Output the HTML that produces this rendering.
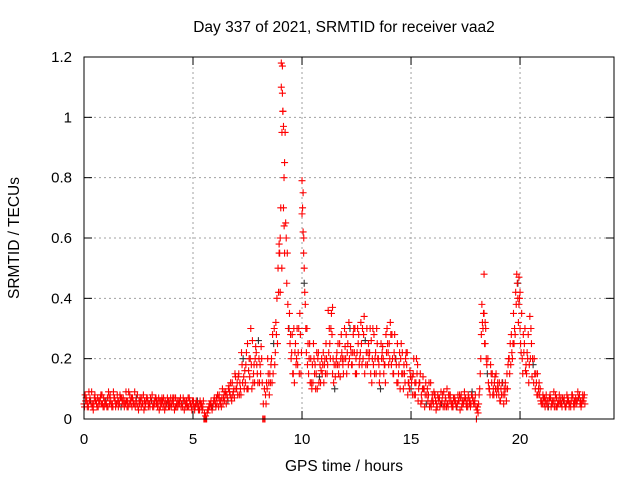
<!DOCTYPE html>
<html><head><meta charset="utf-8"><style>
body{margin:0;background:#fff;}
svg{display:block;font-family:"Liberation Sans",sans-serif;}
</style></head><body>
<svg id="chart" width="640" height="480"></svg>
<script>
const startHour = 0;
const stepHour = 0.1;
const seriesA = [.05,.07,.04,.06,.05,.08,.04,.06,.05,.07,
.06,.04,.08,.05,.07,.05,.06,.04,.07,.05,
.06,.08,.04,.05,.07,.03,.06,.05,.04,.07,
.05,.06,.04,.07,.05,.04,.06,.03,.05,.06,
.04,.05,.07,.04,.06,.05,.03,.06,.04,.05,
.05,.04,.06,.03,.05,0,0,.03,.05,.04,
.06,.05,.08,.04,.07,.09,.06,.08,.12,.07,
.1,.15,.08,.2,.12,.25,.14,.1,.18,.22,
.26,.15,0,0,.1,.08,.2,.25,.32,.5,
.6,1.17,.85,.45,.3,.2,.15,.25,.18,.35,
.79,.45,.22,.15,.2,.12,.18,.1,.14,.2,
.12,.25,.36,.2,.15,.1,.22,.18,.28,.15,
.2,.25,.3,.18,.22,.15,.28,.32,.2,.26,
.18,.22,.12,.28,.15,.2,.1,.24,.18,.3,
.25,.18,.15,.2,.12,.1,.22,.15,.18,.12,
.1,.15,.08,.18,.12,.06,.1,.05,.08,.12,
.06,.08,.04,.07,.05,.09,.06,.04,.08,.05,
.07,.04,.06,.08,.05,.07,.04,.06,.09,.05,
0,.05,.2,.3,.25,.15,.1,.12,.08,.15,
.1,.06,.12,.08,.15,.2,.28,.35,.42,.45,
.3,.2,.25,.15,.12,.3,.18,.1,.15,.08,
.06,.05,.08,.04,.07,.05,.06,.04,.08,.05,
.06,.04,.07,.05,.08,.06,.05,.07,.04,.06];
const seriesB = [.08,.04,.06,.09,.05,.06,.04,.07,.05,.06,
.04,.07,.05,.09,.04,.06,.08,.05,.04,.06,
.09,.05,.06,.04,.08,.05,.07,.03,.06,.04,
.07,.04,.05,.06,.03,.05,.07,.04,.06,.05,
.06,.03,.05,.06,.04,.07,.05,.04,.06,.03,
.04,.06,.03,.05,.04,0,.02,.05,.04,.06,
.04,.07,.05,.1,.06,.08,.11,.07,.09,.14,
.08,.12,.18,.1,.22,.16,.3,.12,.2,.15,
.12,.2,0,.05,.15,.12,.28,.18,.4,.58,
1.1,.97,.65,.38,.25,.28,.12,.2,.3,.15,
.62,.38,.18,.25,.1,.2,.15,.22,.12,.18,
.2,.15,.3,.35,.12,.18,.25,.14,.2,.3,
.15,.32,.22,.28,.15,.3,.2,.18,.34,.22,
.25,.15,.3,.2,.25,.12,.2,.15,.28,.22,
.32,.2,.28,.12,.18,.25,.1,.2,.08,.16,
.14,.08,.2,.1,.05,.14,.08,.1,.04,.06,
.09,.03,.07,.05,.08,.04,.1,.06,.05,.07,
.05,.08,.03,.06,.09,.04,.07,.05,.06,.08,
.04,.1,.38,.48,.2,.12,.18,.08,.14,.1,
.12,.08,.05,.1,.18,.25,.2,.3,.48,.38,
.22,.28,.16,.2,.34,.14,.2,.12,.1,.06,
.08,.04,.06,.07,.05,.09,.04,.06,.05,.07,
.05,.08,.04,.06,.05,.07,.09,.05,.06,.08];
const seriesC = [.04,.06,.09,.05,.03,.06,.07,.05,.08,.04,
.05,.09,.06,.04,.06,.08,.05,.07,.05,.09,
.04,.06,.07,.09,.05,.06,.04,.08,.05,.06,
.04,.08,.06,.05,.07,.06,.04,.06,.07,.04,
.05,.07,.04,.05,.07,.04,.06,.05,.07,.04,
.06,.05,.04,.06,.03,.02,0,.04,.06,.05,
.05,.08,.06,.07,.09,.05,.1,.12,.08,.15,
.12,.08,.22,.14,.18,.1,.2,.26,.12,.18,
.2,.24,.05,.08,.2,.15,.12,.3,.28,.42,
.7,1.02,.95,.55,.35,.22,.3,.18,.22,.28,
.7,.42,.3,.2,.12,.25,.1,.2,.18,.15,
.18,.2,.22,.3,.2,.14,.18,.25,.22,.2,
.28,.18,.24,.22,.3,.22,.18,.25,.28,.18,
.22,.3,.2,.15,.3,.18,.25,.2,.12,.25,
.2,.28,.22,.18,.15,.2,.15,.12,.22,.1,
.12,.2,.12,.06,.15,.1,.04,.08,.12,.04,
.05,.06,.08,.04,.06,.05,.04,.08,.06,.04,
.06,.05,.08,.04,.06,.05,.08,.04,.07,.06,
.03,.08,.28,.35,.3,.2,.08,.15,.12,.08,
.08,.1,.08,.12,.1,.15,.22,.25,.38,.32,
.25,.15,.3,.22,.18,.25,.12,.15,.08,.1,
.05,.07,.05,.06,.04,.06,.08,.05,.06,.04,
.07,.05,.06,.04,.07,.05,.06,.08,.05,.07];
const seriesD = [.06,.05,.07,.04,.07,.05,.06,.08,.04,.05,
.07,.05,.04,.07,.05,.04,.07,.06,.06,.04,
.05,.07,.05,.06,.04,.07,.05,.06,.07,.05,
.06,.05,.07,.04,.06,.07,.05,.05,.04,.07,
.07,.04,.06,.05,.05,.06,.04,.07,.05,.06,
.03,.05,.05,.04,.06,.01,.03,.04,.03,.07,
.07,.04,.06,.05,.08,.07,.09,.06,.1,.1,
.14,.1,.12,.16,.1,.2,.18,.15,.24,.12,
.18,.12,.1,.12,.12,.18,.15,.22,.25,.55,
.5,.8,.6,.3,.28,.15,.22,.3,.15,.22,
.55,.3,.25,.12,.18,.15,.22,.12,.16,.22,
.15,.18,.25,.28,.18,.2,.15,.2,.18,.24,
.22,.2,.18,.3,.2,.25,.22,.3,.15,.3,
.2,.26,.18,.22,.2,.15,.22,.18,.22,.18,
.28,.15,.2,.25,.22,.15,.18,.22,.12,.14,
.08,.12,.15,.12,.08,.1,.12,.06,.05,.08,
.08,.05,.06,.09,.04,.07,.05,.08,.04,.06,
.04,.06,.07,.05,.07,.06,.05,.08,.05,.04,
.02,.15,.32,.25,.18,.1,.15,.1,.1,.12,
.06,.12,.1,.06,.2,.18,.25,.28,.45,.4,
.35,.22,.18,.28,.2,.2,.15,.08,.12,.05,
.07,.06,.04,.08,.06,.04,.07,.05,.07,.06,
.04,.06,.05,.08,.04,.06,.07,.06,.08,.05];
const spikeTimes = [9.05,9.1,9.12,9.15,9.08,9.2,9.18,8.95,9.0,10.05,10.0,10.08,10.1,11.4,18.35,18.4,19.95,20.0,19.9];
const spikeValues = [1.18,1.08,1.02,0.7,0.95,0.55,0.64,0.55,0.42,0.75,0.68,0.6,0.5,0.37,0.35,0.32,0.47,0.42,0.4];
const xTicks = [0,5,10,15,20];
const yTicks = [0,0.2,0.4,0.6,0.8,1,1.2];
const yTickLabels = ["0","0.2","0.4","0.6","0.8","1","1.2"];

const NS="http://www.w3.org/2000/svg";
const svg=document.getElementById('chart');
const L=84,R=614,T=57,B=419,XMAX=24.31,YMAX=1.2;
const xs=v=>L+(v/XMAX)*(R-L);
const ys=v=>B-(v/YMAX)*(B-T);
function mk(tag,attrs){const e=document.createElementNS(NS,tag);for(const k in attrs)e.setAttribute(k,attrs[k]);svg.appendChild(e);return e;}

yTicks.forEach((v,i)=>{
  if(i>0&&i<yTicks.length-1){const g=mk('line',{x1:L,x2:R,y1:ys(v),y2:ys(v),stroke:'#a0a0a0','stroke-dasharray':'2,3','stroke-width':1});
  
  }
  const t=mk('line',{x1:L,x2:L+8,y1:ys(v),y2:ys(v),stroke:'#000'});
  
  
  const t2=mk('line',{x1:R-8,x2:R,y1:ys(v),y2:ys(v),stroke:'#000'});
  
  
  const lb=mk('text',{x:L-12,y:ys(v)+5,'text-anchor':'end','font-size':15});
  lb.textContent=yTickLabels[i];
  
  
});
xTicks.forEach(v=>{
  if(v>0){const g=mk('line',{x1:xs(v),x2:xs(v),y1:T,y2:B,stroke:'#a0a0a0','stroke-dasharray':'2,3','stroke-width':1});
  
  }
  const t=mk('line',{x1:xs(v),x2:xs(v),y1:B-8,y2:B,stroke:'#000'});
  
  
  const t2=mk('line',{x1:xs(v),x2:xs(v),y1:T,y2:T+8,stroke:'#000'});
  
  
  const lb=mk('text',{x:xs(v),y:B+25,'text-anchor':'middle','font-size':15});
  lb.textContent=String(v);
  
  
});

function plus(h,v,color,name){
  const x=xs(h),y=ys(v);
  const p=mk('path',{d:`M${x-3.5},${y}H${x+3.5}M${x},${y-3.5}V${y+3.5}`,stroke:color,'stroke-width':1.1,fill:'none'});
  
  
}
seriesA.forEach((v,i)=>{plus(startHour+i*stepHour,v,i%7===3?'#333':'#f00','srmtid-point');});
seriesC.forEach((v,i)=>{plus(startHour+i*stepHour+0.025,v,'#f00','srmtid-point');});
seriesB.forEach((v,i)=>{plus(startHour+i*stepHour+0.05,v,'#f00','srmtid-point');});
seriesD.forEach((v,i)=>{plus(startHour+i*stepHour+0.075,v,'#f00','srmtid-point');});
spikeTimes.forEach((h,i)=>{plus(h,spikeValues[i],'#f00','srmtid-spike-point');});

const fr=mk('rect',{x:L,y:T,width:R-L,height:B-T,fill:'none',stroke:'#000','stroke-width':1});



const title=mk('text',{x:344,y:32,'text-anchor':'middle','font-size':15.5});
title.textContent='Day 337 of 2021, SRMTID for receiver vaa2';


const xl=mk('text',{x:344,y:471,'text-anchor':'middle','font-size':15.5});
xl.textContent='GPS time / hours';


const yl=mk('text',{x:19,y:238,'text-anchor':'middle','font-size':15.5,transform:'rotate(-90 19 238)'});
yl.textContent='SRMTID / TECUs';


</script>
</body></html>
